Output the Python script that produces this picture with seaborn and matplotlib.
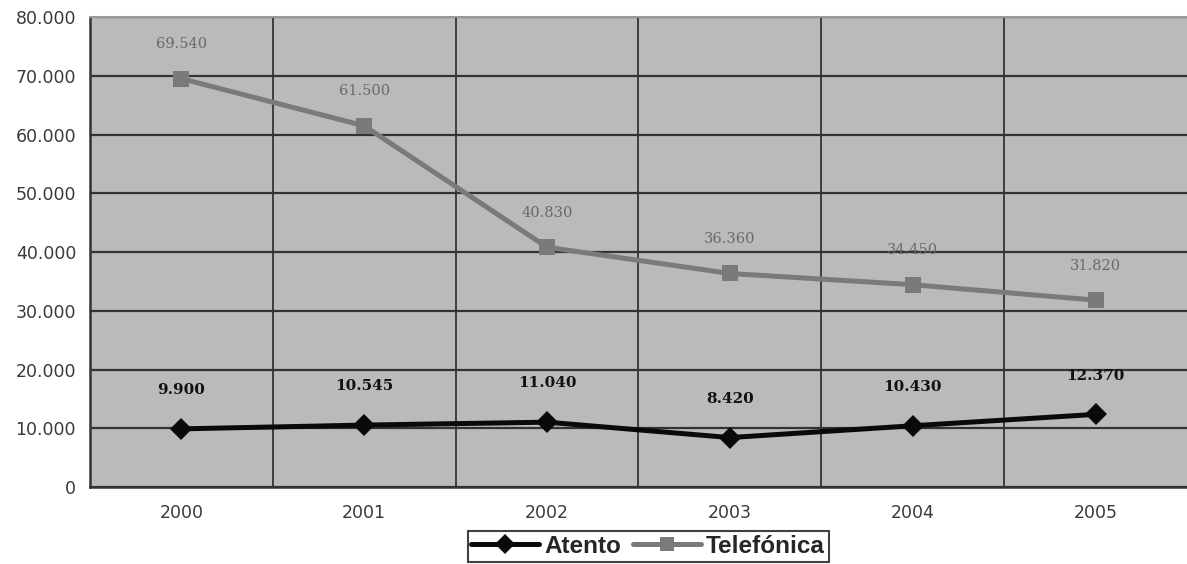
import matplotlib
matplotlib.use("Agg")
import matplotlib.pyplot as plt
import seaborn as sns
import pandas as pd
import numpy as np
from matplotlib.ticker import FixedLocator, FuncFormatter
from matplotlib.lines import Line2D

years = ["2000", "2001", "2002", "2003", "2004", "2005"]
atento = [9900, 10545, 11040, 8420, 10430, 12370]
telefonica = [69540, 61500, 40830, 36360, 34450, 31820]
atento_labels = ["9.900", "10.545", "11.040", "8.420", "10.430", "12.370"]
telefonica_labels = ["69.540", "61.500", "40.830", "36.360", "34.450", "31.820"]
yticks = [0, 10000, 20000, 30000, 40000, 50000, 60000, 70000, 80000]

sns.set_theme(style="white")
plt.rcParams['font.family'] = ['DejaVu Sans']

df = pd.DataFrame({
    "year": years * 2,
    "value": atento + telefonica,
    "serie": ["Atento"] * 6 + ["Telefónica"] * 6,
})

fig = plt.figure(figsize=(11.87, 5.64), dpi=100)
ax = fig.add_axes([0.0758, 0.1365, 0.9242, 0.833])
ax.set_facecolor("#bababa")

sns.lineplot(data=df, x="year", y="value", hue="serie", style="serie",
             markers={"Atento": "D", "Telefónica": "s"}, dashes=False,
             palette={"Atento": "#0a0a0a", "Telefónica": "#7a7a7a"},
             linewidth=3.6, markersize=11, ax=ax, legend=False)
for line in ax.lines:
    line.set_markeredgewidth(0)

ax.set_xlim(-0.5, 5.5)
ax.set_ylim(0, 80000)
ax.yaxis.set_major_locator(FixedLocator(yticks))
ax.yaxis.set_major_formatter(FuncFormatter(lambda v, p: f"{int(v):,}".replace(",", ".")))
ax.xaxis.set_minor_locator(FixedLocator([0.5, 1.5, 2.5, 3.5, 4.5]))
ax.grid(True, axis="y", which="major", color="#333333", linewidth=1.6)
ax.grid(True, axis="x", which="minor", color="#333333", linewidth=1.3)
ax.grid(False, axis="x", which="major")
ax.set_axisbelow(True)
ax.tick_params(axis="x", which="major", length=0, pad=12, labelsize=12.5, labelcolor="#3a3a3a")
ax.tick_params(axis="x", which="minor", length=5, width=1.4, color="#333333", direction="out")
ax.tick_params(axis="y", which="major", length=6, width=1.4, color="#333333", direction="out",
               labelsize=12.5, labelcolor="#3a3a3a", pad=4)
ax.set_xlabel("")
ax.set_ylabel("")
for s in ["left", "bottom"]:
    ax.spines[s].set_color("#333333")
    ax.spines[s].set_linewidth(1.8)
ax.spines["top"].set_color("#999999")
ax.spines["top"].set_linewidth(1.5)
ax.spines["right"].set_visible(False)

for i, (v, lab) in enumerate(zip(atento, atento_labels)):
    ax.annotate(lab, (i, v), xytext=(0, 25), textcoords="offset points", ha="center",
                fontsize=11, fontweight="bold", family="DejaVu Serif", color="#111111")
for i, (v, lab) in enumerate(zip(telefonica, telefonica_labels)):
    ax.annotate(lab, (i, v), xytext=(0, 22), textcoords="offset points", ha="center",
                fontsize=10.5, family="DejaVu Serif", color="#6a6a6a")

handles = [Line2D([], [], color="#0a0a0a", lw=3.6, marker="D", markersize=10, markeredgewidth=0),
           Line2D([], [], color="#7a7a7a", lw=3.6, marker="s", markersize=10, markeredgewidth=0)]
leg = fig.legend(handles, ["Atento", "Telefónica"], loc="lower center", bbox_to_anchor=(0.546, 0.0),
                 ncol=2, frameon=True, fancybox=False, edgecolor="#111111",
                 prop={"weight": "bold", "size": 17.5, "family": "Liberation Sans"},
                 handlelength=2.8, handletextpad=0.2, columnspacing=0.5, borderpad=0.15,
                 borderaxespad=0.1)
leg.get_frame().set_linewidth(1.5)

fig.savefig("out.png", dpi=100)
